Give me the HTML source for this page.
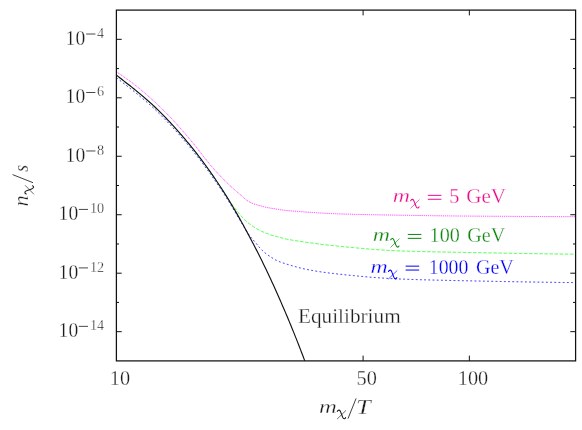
<!DOCTYPE html>
<html><head><meta charset="utf-8"><title>plot</title>
<style>
html,body{margin:0;padding:0;background:#fff;}
svg{display:block;font-family:"Liberation Serif",serif;will-change:transform;}
.it{font-style:italic;}
text{stroke:#fff;stroke-width:0.28px;paint-order:fill stroke;}
</style></head><body>
<svg width="582" height="430" viewBox="0 0 582 430">
<rect width="582" height="430" fill="#fff"/>
<g fill="none">
<path d="M116.40,71.82 L117.40,72.48 L118.40,73.15 L119.40,73.82 L120.40,74.49 L121.40,75.18 L122.40,75.87 L123.40,76.56 L124.40,77.26 L125.40,77.95 L126.40,78.65 L127.40,79.36 L128.40,80.07 L129.40,80.78 L130.40,81.49 L131.40,82.22 L132.40,82.96 L133.40,83.74 L134.40,84.54 L135.40,85.35 L136.40,86.17 L137.40,86.99 L138.40,87.82 L139.40,88.65 L140.40,89.48 L141.40,90.30 L142.40,91.13 L143.40,91.97 L144.40,92.80 L145.40,93.65 L146.40,94.51 L147.40,95.37 L148.40,96.24 L149.40,97.11 L150.40,97.99 L151.40,98.88 L152.40,99.78 L153.40,100.69 L154.40,101.61 L155.40,102.54 L156.40,103.47 L157.40,104.41 L158.40,105.36 L159.40,106.32 L160.40,107.28 L161.40,108.25 L162.40,109.23 L163.40,110.22 L164.40,111.21 L165.40,112.21 L166.40,113.22 L167.40,114.23 L168.40,115.26 L169.40,116.29 L170.40,117.34 L171.40,118.39 L172.40,119.46 L173.40,120.53 L174.40,121.61 L175.40,122.71 L176.40,123.80 L177.40,124.91 L178.40,126.03 L179.40,127.15 L180.40,128.28 L181.40,129.42 L182.40,130.57 L183.40,131.73 L184.40,132.89 L185.40,134.05 L186.40,135.23 L187.40,136.41 L188.40,137.59 L189.40,138.78 L190.40,139.97 L191.40,141.16 L192.40,142.37 L193.40,143.58 L194.40,144.81 L195.40,146.04 L196.40,147.28 L197.40,148.53 L198.40,149.79 L199.40,151.07 L200.40,152.35 L201.40,153.65 L202.40,154.97 L203.40,156.28 L204.40,157.56 L205.40,158.82 L206.40,160.07 L207.40,161.32 L208.40,162.55 L209.40,163.77 L210.40,164.98 L211.40,166.17 L212.40,167.34 L213.40,168.49 L214.40,169.62 L215.40,170.73 L216.40,171.83 L217.40,172.92 L218.40,173.99 L219.40,175.05 L220.40,176.10 L221.40,177.14 L222.40,178.17 L223.40,179.19 L224.40,180.20 L225.40,181.20 L226.40,182.19 L227.40,183.17 L228.40,184.13 L229.40,185.08 L230.40,186.01 L231.40,186.92 L232.40,187.83 L233.40,188.72 L234.40,189.59 L235.40,190.47 L236.40,191.33 L237.40,192.19 L238.40,193.05 L239.40,193.91 L240.40,194.77 L241.40,195.64 L242.40,196.55 L243.40,197.47 L244.40,198.38 L245.40,199.24 L246.40,200.04 L247.40,200.73 L248.40,201.35 L249.40,201.92 L250.40,202.44 L251.40,202.90 L252.40,203.32 L253.40,203.70 L254.40,204.05 L255.40,204.38 L256.40,204.70 L257.40,205.00 L258.40,205.28 L259.40,205.55 L260.40,205.81 L261.40,206.07 L262.40,206.34 L263.40,206.61 L264.40,206.89 L265.40,207.15 L266.40,207.39 L267.40,207.60 L268.40,207.78 L269.40,207.94 L270.40,208.09 L271.40,208.24 L272.40,208.40 L273.40,208.57 L274.40,208.73 L275.40,208.90 L276.40,209.07 L277.40,209.24 L278.40,209.40 L279.40,209.55 L280.40,209.71 L281.40,209.86 L282.40,210.00 L283.40,210.14 L284.40,210.27 L285.40,210.38 L286.40,210.48 L287.40,210.58 L288.40,210.68 L289.40,210.78 L290.40,210.87 L291.40,210.96 L292.40,211.05 L293.40,211.13 L294.40,211.21 L295.40,211.29 L296.40,211.37 L297.40,211.44 L298.40,211.52 L299.40,211.59 L300.40,211.66 L301.40,211.73 L302.40,211.80 L303.40,211.87 L304.40,211.94 L305.40,212.01 L306.40,212.08 L307.40,212.15 L308.40,212.21 L309.40,212.28 L310.40,212.35 L311.40,212.42 L312.40,212.48 L313.40,212.55 L314.40,212.61 L315.40,212.68 L316.40,212.74 L317.40,212.81 L318.40,212.87 L319.40,212.93 L320.40,212.99 L321.40,213.05 L322.40,213.11 L323.40,213.17 L324.40,213.22 L325.40,213.28 L326.40,213.33 L327.40,213.39 L328.40,213.44 L329.40,213.49 L330.40,213.54 L331.40,213.58 L332.40,213.63 L333.40,213.67 L334.40,213.71 L335.40,213.76 L336.40,213.79 L337.40,213.83 L338.40,213.87 L339.40,213.90 L340.40,213.93 L341.40,213.96 L342.40,213.99 L343.40,214.02 L344.40,214.05 L345.40,214.08 L346.40,214.11 L347.40,214.14 L348.40,214.17 L349.40,214.20 L350.40,214.22 L351.40,214.25 L352.40,214.28 L353.40,214.30 L354.40,214.33 L355.40,214.35 L356.40,214.38 L357.40,214.40 L358.40,214.42 L359.40,214.45 L360.40,214.47 L361.40,214.49 L362.40,214.51 L363.40,214.54 L364.40,214.56 L365.40,214.58 L366.40,214.60 L367.40,214.62 L368.40,214.64 L369.40,214.66 L370.40,214.68 L371.40,214.70 L372.40,214.72 L373.40,214.74 L374.40,214.76 L375.40,214.78 L376.40,214.80 L377.40,214.81 L378.40,214.83 L379.40,214.85 L380.40,214.87 L381.40,214.89 L382.40,214.90 L383.40,214.92 L384.40,214.94 L385.40,214.96 L386.40,214.97 L387.40,214.99 L388.40,215.01 L389.40,215.02 L390.40,215.04 L391.40,215.06 L392.40,215.07 L393.40,215.09 L394.40,215.11 L395.40,215.12 L396.40,215.14 L397.40,215.16 L398.40,215.17 L399.40,215.19 L400.40,215.21 L401.40,215.22 L402.40,215.24 L403.40,215.26 L404.40,215.27 L405.40,215.29 L406.40,215.31 L407.40,215.32 L408.40,215.34 L409.40,215.36 L410.40,215.37 L411.40,215.39 L412.40,215.40 L413.40,215.42 L414.40,215.44 L415.40,215.45 L416.40,215.47 L417.40,215.48 L418.40,215.50 L419.40,215.52 L420.40,215.53 L421.40,215.55 L422.40,215.56 L423.40,215.58 L424.40,215.59 L425.40,215.61 L426.40,215.62 L427.40,215.64 L428.40,215.65 L429.40,215.66 L430.40,215.68 L431.40,215.69 L432.40,215.71 L433.40,215.72 L434.40,215.73 L435.40,215.75 L436.40,215.76 L437.40,215.77 L438.40,215.79 L439.40,215.80 L440.40,215.81 L441.40,215.82 L442.40,215.84 L443.40,215.85 L444.40,215.86 L445.40,215.87 L446.40,215.88 L447.40,215.89 L448.40,215.91 L449.40,215.92 L450.40,215.93 L451.40,215.94 L452.40,215.95 L453.40,215.96 L454.40,215.97 L455.40,215.98 L456.40,215.99 L457.40,216.00 L458.40,216.00 L459.40,216.01 L460.40,216.02 L461.40,216.03 L462.40,216.04 L463.40,216.05 L464.40,216.05 L465.40,216.06 L466.40,216.07 L467.40,216.08 L468.40,216.09 L469.40,216.09 L470.40,216.10 L471.40,216.11 L472.40,216.12 L473.40,216.12 L474.40,216.13 L475.40,216.14 L476.40,216.14 L477.40,216.15 L478.40,216.16 L479.40,216.16 L480.40,216.17 L481.40,216.18 L482.40,216.18 L483.40,216.19 L484.40,216.20 L485.40,216.20 L486.40,216.21 L487.40,216.21 L488.40,216.22 L489.40,216.23 L490.40,216.23 L491.40,216.24 L492.40,216.24 L493.40,216.25 L494.40,216.25 L495.40,216.26 L496.40,216.27 L497.40,216.27 L498.40,216.28 L499.40,216.28 L500.40,216.29 L501.40,216.29 L502.40,216.30 L503.40,216.31 L504.40,216.31 L505.40,216.32 L506.40,216.32 L507.40,216.33 L508.40,216.33 L509.40,216.34 L510.40,216.35 L511.40,216.35 L512.40,216.36 L513.40,216.36 L514.40,216.37 L515.40,216.37 L516.40,216.38 L517.40,216.38 L518.40,216.39 L519.40,216.40 L520.40,216.40 L521.40,216.41 L522.40,216.41 L523.40,216.42 L524.40,216.43 L525.40,216.43 L526.40,216.44 L527.40,216.44 L528.40,216.45 L529.40,216.45 L530.40,216.46 L531.40,216.47 L532.40,216.47 L533.40,216.48 L534.40,216.48 L535.40,216.49 L536.40,216.49 L537.40,216.50 L538.40,216.51 L539.40,216.51 L540.40,216.52 L541.40,216.52 L542.40,216.53 L543.40,216.53 L544.40,216.54 L545.40,216.54 L546.40,216.55 L547.40,216.55 L548.40,216.56 L549.40,216.57 L550.40,216.57 L551.40,216.58 L552.40,216.58 L553.40,216.59 L554.40,216.59 L555.40,216.60 L556.40,216.60 L557.40,216.61 L558.40,216.61 L559.40,216.62 L560.40,216.62 L561.40,216.63 L562.40,216.63 L563.40,216.64 L564.40,216.64 L565.40,216.65 L566.40,216.65 L567.40,216.66 L568.40,216.66 L569.40,216.67 L570.40,216.67 L571.40,216.68 L572.40,216.68 L573.40,216.69 L574.40,216.69 L575.60,216.70" stroke="#ff00ff" stroke-opacity="0.85" stroke-width="0.95" stroke-dasharray="1 0.9"/>
<path d="M116.40,75.12 L117.40,75.89 L118.40,76.66 L119.40,77.43 L120.40,78.21 L121.40,79.00 L122.40,79.80 L123.40,80.60 L124.40,81.39 L125.40,82.17 L126.40,82.94 L127.40,83.71 L128.40,84.49 L129.40,85.27 L130.40,86.06 L131.40,86.85 L132.40,87.65 L133.40,88.46 L134.40,89.27 L135.40,90.08 L136.40,90.91 L137.40,91.74 L138.40,92.57 L139.40,93.41 L140.40,94.25 L141.40,95.09 L142.40,95.93 L143.40,96.77 L144.40,97.62 L145.40,98.48 L146.40,99.34 L147.40,100.21 L148.40,101.09 L149.40,101.97 L150.40,102.86 L151.40,103.76 L152.40,104.67 L153.40,105.60 L154.40,106.54 L155.40,107.50 L156.40,108.47 L157.40,109.44 L158.40,110.42 L159.40,111.40 L160.40,112.40 L161.40,113.40 L162.40,114.41 L163.40,115.42 L164.40,116.44 L165.40,117.47 L166.40,118.51 L167.40,119.56 L168.40,120.61 L169.40,121.67 L170.40,122.73 L171.40,123.80 L172.40,124.88 L173.40,125.97 L174.40,127.07 L175.40,128.17 L176.40,129.28 L177.40,130.40 L178.40,131.52 L179.40,132.66 L180.40,133.80 L181.40,134.95 L182.40,136.11 L183.40,137.28 L184.40,138.45 L185.40,139.63 L186.40,140.82 L187.40,142.02 L188.40,143.22 L189.40,144.44 L190.40,145.66 L191.40,146.89 L192.40,148.13 L193.40,149.38 L194.40,150.64 L195.40,151.91 L196.40,153.19 L197.40,154.47 L198.40,155.77 L199.40,157.08 L200.40,158.39 L201.40,159.71 L202.40,161.05 L203.40,162.39 L204.40,163.74 L205.40,165.11 L206.40,166.48 L207.40,167.86 L208.40,169.26 L209.40,170.66 L210.40,172.07 L211.40,173.49 L212.40,174.93 L213.40,176.37 L214.40,177.82 L215.40,179.29 L216.40,180.76 L217.40,182.24 L218.40,183.74 L219.40,185.25 L220.40,186.76 L221.40,188.29 L222.40,189.82 L223.40,191.37 L224.40,192.94 L225.40,194.55 L226.40,196.20 L227.40,197.83 L228.40,199.38 L229.40,200.86 L230.40,202.28 L231.40,203.65 L232.40,204.99 L233.40,206.27 L234.40,207.52 L235.40,208.77 L236.40,210.06 L237.40,211.37 L238.40,212.67 L239.40,213.94 L240.40,215.15 L241.40,216.29 L242.40,217.40 L243.40,218.46 L244.40,219.48 L245.40,220.44 L246.40,221.34 L247.40,222.19 L248.40,223.00 L249.40,223.77 L250.40,224.51 L251.40,225.25 L252.40,225.97 L253.40,226.67 L254.40,227.35 L255.40,228.00 L256.40,228.60 L257.40,229.16 L258.40,229.70 L259.40,230.21 L260.40,230.70 L261.40,231.17 L262.40,231.63 L263.40,232.07 L264.40,232.49 L265.40,232.90 L266.40,233.30 L267.40,233.70 L268.40,234.09 L269.40,234.48 L270.40,234.84 L271.40,235.16 L272.40,235.45 L273.40,235.71 L274.40,235.96 L275.40,236.20 L276.40,236.44 L277.40,236.70 L278.40,236.97 L279.40,237.26 L280.40,237.56 L281.40,237.85 L282.40,238.13 L283.40,238.39 L284.40,238.63 L285.40,238.85 L286.40,239.06 L287.40,239.25 L288.40,239.45 L289.40,239.63 L290.40,239.81 L291.40,239.99 L292.40,240.16 L293.40,240.33 L294.40,240.49 L295.40,240.65 L296.40,240.80 L297.40,240.95 L298.40,241.10 L299.40,241.25 L300.40,241.40 L301.40,241.55 L302.40,241.69 L303.40,241.84 L304.40,241.99 L305.40,242.13 L306.40,242.28 L307.40,242.43 L308.40,242.57 L309.40,242.71 L310.40,242.85 L311.40,243.00 L312.40,243.13 L313.40,243.27 L314.40,243.41 L315.40,243.55 L316.40,243.68 L317.40,243.81 L318.40,243.94 L319.40,244.07 L320.40,244.20 L321.40,244.32 L322.40,244.44 L323.40,244.56 L324.40,244.68 L325.40,244.80 L326.40,244.91 L327.40,245.02 L328.40,245.13 L329.40,245.24 L330.40,245.34 L331.40,245.44 L332.40,245.55 L333.40,245.65 L334.40,245.75 L335.40,245.85 L336.40,245.96 L337.40,246.06 L338.40,246.16 L339.40,246.26 L340.40,246.36 L341.40,246.46 L342.40,246.56 L343.40,246.66 L344.40,246.76 L345.40,246.86 L346.40,246.96 L347.40,247.06 L348.40,247.16 L349.40,247.26 L350.40,247.35 L351.40,247.45 L352.40,247.54 L353.40,247.64 L354.40,247.73 L355.40,247.83 L356.40,247.92 L357.40,248.01 L358.40,248.10 L359.40,248.20 L360.40,248.28 L361.40,248.37 L362.40,248.46 L363.40,248.55 L364.40,248.64 L365.40,248.72 L366.40,248.81 L367.40,248.89 L368.40,248.97 L369.40,249.05 L370.40,249.13 L371.40,249.21 L372.40,249.29 L373.40,249.37 L374.40,249.44 L375.40,249.52 L376.40,249.59 L377.40,249.67 L378.40,249.74 L379.40,249.81 L380.40,249.87 L381.40,249.94 L382.40,250.01 L383.40,250.07 L384.40,250.13 L385.40,250.20 L386.40,250.25 L387.40,250.31 L388.40,250.37 L389.40,250.43 L390.40,250.48 L391.40,250.53 L392.40,250.58 L393.40,250.63 L394.40,250.68 L395.40,250.72 L396.40,250.77 L397.40,250.81 L398.40,250.85 L399.40,250.89 L400.40,250.92 L401.40,250.96 L402.40,250.99 L403.40,251.03 L404.40,251.06 L405.40,251.09 L406.40,251.13 L407.40,251.16 L408.40,251.19 L409.40,251.22 L410.40,251.25 L411.40,251.28 L412.40,251.31 L413.40,251.34 L414.40,251.36 L415.40,251.39 L416.40,251.42 L417.40,251.45 L418.40,251.47 L419.40,251.50 L420.40,251.52 L421.40,251.55 L422.40,251.57 L423.40,251.60 L424.40,251.62 L425.40,251.64 L426.40,251.67 L427.40,251.69 L428.40,251.71 L429.40,251.73 L430.40,251.76 L431.40,251.78 L432.40,251.80 L433.40,251.82 L434.40,251.84 L435.40,251.86 L436.40,251.88 L437.40,251.90 L438.40,251.92 L439.40,251.94 L440.40,251.96 L441.40,251.98 L442.40,252.00 L443.40,252.02 L444.40,252.04 L445.40,252.06 L446.40,252.08 L447.40,252.10 L448.40,252.12 L449.40,252.14 L450.40,252.15 L451.40,252.17 L452.40,252.19 L453.40,252.21 L454.40,252.23 L455.40,252.25 L456.40,252.27 L457.40,252.29 L458.40,252.31 L459.40,252.33 L460.40,252.35 L461.40,252.37 L462.40,252.39 L463.40,252.41 L464.40,252.43 L465.40,252.45 L466.40,252.47 L467.40,252.49 L468.40,252.51 L469.40,252.53 L470.40,252.54 L471.40,252.56 L472.40,252.58 L473.40,252.60 L474.40,252.62 L475.40,252.64 L476.40,252.66 L477.40,252.68 L478.40,252.70 L479.40,252.72 L480.40,252.74 L481.40,252.75 L482.40,252.77 L483.40,252.79 L484.40,252.81 L485.40,252.83 L486.40,252.85 L487.40,252.87 L488.40,252.88 L489.40,252.90 L490.40,252.92 L491.40,252.94 L492.40,252.96 L493.40,252.98 L494.40,252.99 L495.40,253.01 L496.40,253.03 L497.40,253.05 L498.40,253.07 L499.40,253.08 L500.40,253.10 L501.40,253.12 L502.40,253.14 L503.40,253.15 L504.40,253.17 L505.40,253.19 L506.40,253.21 L507.40,253.22 L508.40,253.24 L509.40,253.26 L510.40,253.28 L511.40,253.29 L512.40,253.31 L513.40,253.33 L514.40,253.34 L515.40,253.36 L516.40,253.38 L517.40,253.39 L518.40,253.41 L519.40,253.43 L520.40,253.44 L521.40,253.46 L522.40,253.47 L523.40,253.49 L524.40,253.51 L525.40,253.52 L526.40,253.54 L527.40,253.55 L528.40,253.57 L529.40,253.59 L530.40,253.60 L531.40,253.62 L532.40,253.63 L533.40,253.65 L534.40,253.66 L535.40,253.68 L536.40,253.69 L537.40,253.71 L538.40,253.72 L539.40,253.74 L540.40,253.75 L541.40,253.77 L542.40,253.78 L543.40,253.79 L544.40,253.81 L545.40,253.82 L546.40,253.84 L547.40,253.85 L548.40,253.86 L549.40,253.88 L550.40,253.89 L551.40,253.91 L552.40,253.92 L553.40,253.93 L554.40,253.95 L555.40,253.96 L556.40,253.97 L557.40,253.98 L558.40,254.00 L559.40,254.01 L560.40,254.02 L561.40,254.03 L562.40,254.05 L563.40,254.06 L564.40,254.07 L565.40,254.08 L566.40,254.10 L567.40,254.11 L568.40,254.12 L569.40,254.13 L570.40,254.14 L571.40,254.15 L572.40,254.16 L573.40,254.18 L574.40,254.19 L575.60,254.20" stroke="#00ff00" stroke-width="0.72" stroke-dasharray="3.5 1.6"/>
<path d="M116.40,77.72 L117.40,78.48 L118.40,79.24 L119.40,80.01 L120.40,80.79 L121.40,81.57 L122.40,82.37 L123.40,83.16 L124.40,83.95 L125.40,84.72 L126.40,85.48 L127.40,86.25 L128.40,87.02 L129.40,87.80 L130.40,88.58 L131.40,89.36 L132.40,90.16 L133.40,90.96 L134.40,91.76 L135.40,92.57 L136.40,93.39 L137.40,94.21 L138.40,95.04 L139.40,95.88 L140.40,96.71 L141.40,97.54 L142.40,98.37 L143.40,99.21 L144.40,100.05 L145.40,100.90 L146.40,101.76 L147.40,102.63 L148.40,103.50 L149.40,104.37 L150.40,105.25 L151.40,106.14 L152.40,107.05 L153.40,107.97 L154.40,108.91 L155.40,109.86 L156.40,110.82 L157.40,111.78 L158.40,112.75 L159.40,113.73 L160.40,114.71 L161.40,115.71 L162.40,116.71 L163.40,117.71 L164.40,118.73 L165.40,119.75 L166.40,120.78 L167.40,121.82 L168.40,122.86 L169.40,123.91 L170.40,124.97 L171.40,126.03 L172.40,127.11 L173.40,128.18 L174.40,129.27 L175.40,130.36 L176.40,131.47 L177.40,132.58 L178.40,133.70 L179.40,134.82 L180.40,135.96 L181.40,137.10 L182.40,138.25 L183.40,139.41 L184.40,140.58 L185.40,141.75 L186.40,142.93 L187.40,144.12 L188.40,145.32 L189.40,146.52 L190.40,147.74 L191.40,148.96 L192.40,150.19 L193.40,151.44 L194.40,152.69 L195.40,153.95 L196.40,155.22 L197.40,156.50 L198.40,157.78 L199.40,159.08 L200.40,160.38 L201.40,161.69 L202.40,163.01 L203.40,164.33 L204.40,165.67 L205.40,167.02 L206.40,168.37 L207.40,169.74 L208.40,171.11 L209.40,172.50 L210.40,173.89 L211.40,175.30 L212.40,176.71 L213.40,178.14 L214.40,179.57 L215.40,181.02 L216.40,182.48 L217.40,183.95 L218.40,185.42 L219.40,186.91 L220.40,188.41 L221.40,189.92 L222.40,191.44 L223.40,192.97 L224.40,194.52 L225.40,196.09 L226.40,197.68 L227.40,199.28 L228.40,200.90 L229.40,202.53 L230.40,204.17 L231.40,205.82 L232.40,207.48 L233.40,209.14 L234.40,210.80 L235.40,212.47 L236.40,214.14 L237.40,215.79 L238.40,217.44 L239.40,219.10 L240.40,220.78 L241.40,222.49 L242.40,224.22 L243.40,225.94 L244.40,227.62 L245.40,229.28 L246.40,230.93 L247.40,232.54 L248.40,234.07 L249.40,235.47 L250.40,236.75 L251.40,237.95 L252.40,239.09 L253.40,240.21 L254.40,241.33 L255.40,242.48 L256.40,243.69 L257.40,244.93 L258.40,246.16 L259.40,247.36 L260.40,248.48 L261.40,249.52 L262.40,250.51 L263.40,251.46 L264.40,252.36 L265.40,253.20 L266.40,253.98 L267.40,254.71 L268.40,255.39 L269.40,256.05 L270.40,256.69 L271.40,257.33 L272.40,257.99 L273.40,258.65 L274.40,259.29 L275.40,259.88 L276.40,260.40 L277.40,260.85 L278.40,261.28 L279.40,261.68 L280.40,262.05 L281.40,262.41 L282.40,262.75 L283.40,263.08 L284.40,263.41 L285.40,263.72 L286.40,264.04 L287.40,264.36 L288.40,264.67 L289.40,264.97 L290.40,265.27 L291.40,265.56 L292.40,265.84 L293.40,266.12 L294.40,266.40 L295.40,266.67 L296.40,266.94 L297.40,267.20 L298.40,267.46 L299.40,267.73 L300.40,267.99 L301.40,268.24 L302.40,268.49 L303.40,268.72 L304.40,268.94 L305.40,269.14 L306.40,269.34 L307.40,269.54 L308.40,269.73 L309.40,269.92 L310.40,270.11 L311.40,270.29 L312.40,270.48 L313.40,270.65 L314.40,270.83 L315.40,271.00 L316.40,271.17 L317.40,271.33 L318.40,271.49 L319.40,271.65 L320.40,271.80 L321.40,271.96 L322.40,272.10 L323.40,272.25 L324.40,272.39 L325.40,272.52 L326.40,272.65 L327.40,272.78 L328.40,272.91 L329.40,273.03 L330.40,273.15 L331.40,273.26 L332.40,273.38 L333.40,273.49 L334.40,273.61 L335.40,273.72 L336.40,273.83 L337.40,273.95 L338.40,274.06 L339.40,274.17 L340.40,274.28 L341.40,274.39 L342.40,274.50 L343.40,274.61 L344.40,274.71 L345.40,274.82 L346.40,274.92 L347.40,275.03 L348.40,275.13 L349.40,275.24 L350.40,275.34 L351.40,275.44 L352.40,275.54 L353.40,275.64 L354.40,275.74 L355.40,275.84 L356.40,275.93 L357.40,276.03 L358.40,276.12 L359.40,276.22 L360.40,276.31 L361.40,276.40 L362.40,276.49 L363.40,276.58 L364.40,276.67 L365.40,276.76 L366.40,276.84 L367.40,276.93 L368.40,277.01 L369.40,277.09 L370.40,277.18 L371.40,277.26 L372.40,277.34 L373.40,277.41 L374.40,277.49 L375.40,277.57 L376.40,277.64 L377.40,277.71 L378.40,277.79 L379.40,277.86 L380.40,277.93 L381.40,278.00 L382.40,278.06 L383.40,278.13 L384.40,278.19 L385.40,278.25 L386.40,278.32 L387.40,278.38 L388.40,278.43 L389.40,278.49 L390.40,278.55 L391.40,278.60 L392.40,278.66 L393.40,278.71 L394.40,278.76 L395.40,278.80 L396.40,278.85 L397.40,278.90 L398.40,278.94 L399.40,278.98 L400.40,279.02 L401.40,279.06 L402.40,279.10 L403.40,279.14 L404.40,279.18 L405.40,279.22 L406.40,279.26 L407.40,279.29 L408.40,279.33 L409.40,279.36 L410.40,279.40 L411.40,279.43 L412.40,279.46 L413.40,279.50 L414.40,279.53 L415.40,279.56 L416.40,279.59 L417.40,279.62 L418.40,279.65 L419.40,279.68 L420.40,279.71 L421.40,279.74 L422.40,279.77 L423.40,279.80 L424.40,279.82 L425.40,279.85 L426.40,279.88 L427.40,279.90 L428.40,279.93 L429.40,279.95 L430.40,279.98 L431.40,280.00 L432.40,280.03 L433.40,280.05 L434.40,280.08 L435.40,280.10 L436.40,280.13 L437.40,280.15 L438.40,280.17 L439.40,280.20 L440.40,280.22 L441.40,280.24 L442.40,280.26 L443.40,280.29 L444.40,280.31 L445.40,280.33 L446.40,280.35 L447.40,280.37 L448.40,280.40 L449.40,280.42 L450.40,280.44 L451.40,280.46 L452.40,280.48 L453.40,280.50 L454.40,280.52 L455.40,280.55 L456.40,280.57 L457.40,280.59 L458.40,280.61 L459.40,280.63 L460.40,280.65 L461.40,280.68 L462.40,280.70 L463.40,280.72 L464.40,280.74 L465.40,280.76 L466.40,280.78 L467.40,280.80 L468.40,280.82 L469.40,280.85 L470.40,280.87 L471.40,280.89 L472.40,280.91 L473.40,280.93 L474.40,280.95 L475.40,280.97 L476.40,280.99 L477.40,281.01 L478.40,281.03 L479.40,281.05 L480.40,281.07 L481.40,281.10 L482.40,281.12 L483.40,281.14 L484.40,281.16 L485.40,281.18 L486.40,281.20 L487.40,281.22 L488.40,281.24 L489.40,281.26 L490.40,281.28 L491.40,281.30 L492.40,281.32 L493.40,281.34 L494.40,281.36 L495.40,281.37 L496.40,281.39 L497.40,281.41 L498.40,281.43 L499.40,281.45 L500.40,281.47 L501.40,281.49 L502.40,281.51 L503.40,281.53 L504.40,281.55 L505.40,281.57 L506.40,281.58 L507.40,281.60 L508.40,281.62 L509.40,281.64 L510.40,281.66 L511.40,281.68 L512.40,281.69 L513.40,281.71 L514.40,281.73 L515.40,281.75 L516.40,281.77 L517.40,281.78 L518.40,281.80 L519.40,281.82 L520.40,281.84 L521.40,281.85 L522.40,281.87 L523.40,281.89 L524.40,281.90 L525.40,281.92 L526.40,281.94 L527.40,281.95 L528.40,281.97 L529.40,281.99 L530.40,282.00 L531.40,282.02 L532.40,282.03 L533.40,282.05 L534.40,282.07 L535.40,282.08 L536.40,282.10 L537.40,282.11 L538.40,282.13 L539.40,282.14 L540.40,282.16 L541.40,282.17 L542.40,282.19 L543.40,282.20 L544.40,282.22 L545.40,282.23 L546.40,282.25 L547.40,282.26 L548.40,282.27 L549.40,282.29 L550.40,282.30 L551.40,282.31 L552.40,282.33 L553.40,282.34 L554.40,282.35 L555.40,282.37 L556.40,282.38 L557.40,282.39 L558.40,282.41 L559.40,282.42 L560.40,282.43 L561.40,282.44 L562.40,282.46 L563.40,282.47 L564.40,282.48 L565.40,282.49 L566.40,282.50 L567.40,282.51 L568.40,282.52 L569.40,282.54 L570.40,282.55 L571.40,282.56 L572.40,282.57 L573.40,282.58 L574.40,282.59 L575.60,282.60" stroke="#0000ff" stroke-width="0.85" stroke-dasharray="1.8 2.4"/>
<path d="M116.40,75.12 L117.40,75.89 L118.40,76.66 L119.40,77.43 L120.40,78.21 L121.40,79.00 L122.40,79.79 L123.40,80.59 L124.40,81.39 L125.40,82.18 L126.40,82.95 L127.40,83.72 L128.40,84.49 L129.40,85.27 L130.40,86.06 L131.40,86.85 L132.40,87.65 L133.40,88.46 L134.40,89.27 L135.40,90.08 L136.40,90.91 L137.40,91.74 L138.40,92.57 L139.40,93.41 L140.40,94.25 L141.40,95.08 L142.40,95.92 L143.40,96.77 L144.40,97.62 L145.40,98.48 L146.40,99.34 L147.40,100.21 L148.40,101.09 L149.40,101.97 L150.40,102.87 L151.40,103.76 L152.40,104.67 L153.40,105.59 L154.40,106.54 L155.40,107.50 L156.40,108.47 L157.40,109.44 L158.40,110.42 L159.40,111.40 L160.40,112.40 L161.40,113.40 L162.40,114.41 L163.40,115.42 L164.40,116.44 L165.40,117.47 L166.40,118.51 L167.40,119.56 L168.40,120.61 L169.40,121.67 L170.40,122.73 L171.40,123.81 L172.40,124.88 L173.40,125.97 L174.40,127.07 L175.40,128.17 L176.40,129.28 L177.40,130.40 L178.40,131.52 L179.40,132.66 L180.40,133.80 L181.40,134.95 L182.40,136.11 L183.40,137.28 L184.40,138.45 L185.40,139.63 L186.40,140.82 L187.40,142.02 L188.40,143.22 L189.40,144.44 L190.40,145.66 L191.40,146.89 L192.40,148.13 L193.40,149.38 L194.40,150.64 L195.40,151.91 L196.40,153.19 L197.40,154.47 L198.40,155.77 L199.40,157.08 L200.40,158.39 L201.40,159.71 L202.40,161.05 L203.40,162.39 L204.40,163.74 L205.40,165.11 L206.40,166.48 L207.40,167.86 L208.40,169.26 L209.40,170.66 L210.40,172.07 L211.40,173.49 L212.40,174.93 L213.40,176.37 L214.40,177.82 L215.40,179.29 L216.40,180.76 L217.40,182.24 L218.40,183.74 L219.40,185.25 L220.40,186.76 L221.40,188.29 L222.40,189.83 L223.40,191.38 L224.40,192.94 L225.40,194.52 L226.40,196.13 L227.40,197.75 L228.40,199.38 L229.40,201.03 L230.40,202.68 L231.40,204.35 L232.40,206.03 L233.40,207.73 L234.40,209.43 L235.40,211.15 L236.40,212.88 L237.40,214.62 L238.40,216.37 L239.40,218.14 L240.40,219.92 L241.40,221.71 L242.40,223.51 L243.40,225.33 L244.40,227.16 L245.40,229.01 L246.40,230.86 L247.40,232.73 L248.40,234.62 L249.40,236.52 L250.40,238.41 L251.40,240.29 L252.40,242.18 L253.40,244.09 L254.40,246.00 L255.40,247.94 L256.40,249.88 L257.40,251.84 L258.40,253.81 L259.40,255.80 L260.40,257.80 L261.40,259.82 L262.40,261.84 L263.40,263.89 L264.40,265.94 L265.40,268.01 L266.40,270.10 L267.40,272.20 L268.40,274.31 L269.40,276.44 L270.40,278.59 L271.40,280.74 L272.40,282.92 L273.40,285.11 L274.40,287.31 L275.40,289.53 L276.40,291.76 L277.40,294.01 L278.40,296.28 L279.40,298.56 L280.40,300.84 L281.40,303.11 L282.40,305.40 L283.40,307.71 L284.40,310.03 L285.40,312.36 L286.40,314.72 L287.40,317.08 L288.40,319.47 L289.40,321.87 L290.40,324.28 L291.40,326.71 L292.40,329.16 L293.40,331.63 L294.40,334.11 L295.40,336.61 L296.40,339.13 L297.40,341.66 L298.40,344.21 L299.40,346.77 L300.40,349.36 L301.40,351.96 L302.40,354.58 L303.40,357.22 L304.40,359.89 L304.77,360.90" stroke="#111" stroke-width="1.15"/>
<path d="M116.4,331.67h5.3 M575.6,331.67h-5.3 M116.4,302.43h2.6 M575.6,302.43h-2.6 M116.4,273.20h5.3 M575.6,273.20h-5.3 M116.4,243.97h2.6 M575.6,243.97h-2.6 M116.4,214.73h5.3 M575.6,214.73h-5.3 M116.4,185.50h2.6 M575.6,185.50h-2.6 M116.4,156.27h5.3 M575.6,156.27h-5.3 M116.4,127.03h2.6 M575.6,127.03h-2.6 M116.4,97.80h5.3 M575.6,97.80h-5.3 M116.4,68.57h2.6 M575.6,68.57h-2.6 M116.4,39.33h5.3 M575.6,39.33h-5.3 M363.10,360.9v-5.3 M363.10,10.1v5.3 M469.35,360.9v-5.3 M469.35,10.1v5.3" stroke="#111" stroke-width="1"/>
<rect x="116.4" y="10.1" width="459.20" height="350.80" stroke="#111" stroke-width="1.25"/>
</g>
<text x="58.6" y="337.17" style="fill:#1c1c1c" font-size="20.3" textLength="19.6" lengthAdjust="spacingAndGlyphs">10</text>
<path d="M78.8,326.37H88.0" stroke="#1c1c1c" stroke-width="0.8"/>
<text x="90.0" y="329.97" style="fill:#1c1c1c" font-size="14.2">14</text>
<text x="58.6" y="278.70" style="fill:#1c1c1c" font-size="20.3" textLength="19.6" lengthAdjust="spacingAndGlyphs">10</text>
<path d="M78.8,267.90H88.0" stroke="#1c1c1c" stroke-width="0.8"/>
<text x="90.0" y="271.50" style="fill:#1c1c1c" font-size="14.2">12</text>
<text x="58.6" y="220.23" style="fill:#1c1c1c" font-size="20.3" textLength="19.6" lengthAdjust="spacingAndGlyphs">10</text>
<path d="M78.8,209.43H88.0" stroke="#1c1c1c" stroke-width="0.8"/>
<text x="90.0" y="213.03" style="fill:#1c1c1c" font-size="14.2">10</text>
<text x="65.6" y="161.77" style="fill:#1c1c1c" font-size="20.3" textLength="19.6" lengthAdjust="spacingAndGlyphs">10</text>
<path d="M86.2,150.97H95.4" stroke="#1c1c1c" stroke-width="0.8"/>
<text x="97.0" y="154.57" style="fill:#1c1c1c" font-size="14.2">8</text>
<text x="65.6" y="103.30" style="fill:#1c1c1c" font-size="20.3" textLength="19.6" lengthAdjust="spacingAndGlyphs">10</text>
<path d="M86.2,92.50H95.4" stroke="#1c1c1c" stroke-width="0.8"/>
<text x="97.0" y="96.10" style="fill:#1c1c1c" font-size="14.2">6</text>
<text x="65.6" y="44.83" style="fill:#1c1c1c" font-size="20.3" textLength="19.6" lengthAdjust="spacingAndGlyphs">10</text>
<path d="M86.2,34.03H95.4" stroke="#1c1c1c" stroke-width="0.8"/>
<text x="97.0" y="37.63" style="fill:#1c1c1c" font-size="14.2">4</text>
<text x="120.00" y="385.4" style="fill:#1c1c1c" font-size="20.3" text-anchor="middle">10</text>
<text x="366.70" y="385.4" style="fill:#1c1c1c" font-size="20.3" text-anchor="middle">50</text>
<text x="472.95" y="385.4" style="fill:#1c1c1c" font-size="20.3" text-anchor="middle">100</text>
<text x="392.8" y="202.25" style="fill:#ec0c8c" font-size="19.691" class="it" textLength="17.2" lengthAdjust="spacingAndGlyphs">m</text>
<g transform="translate(410.0,199.05) scale(1.0)" fill="none" stroke="#ec0c8c" stroke-linecap="round"><path d="M0.7,1.6C1.1,0.7 1.8,0.2 2.6,0.3C3.6,0.5 3.9,1.6 4.3,2.8L5.9,7.0C6.3,8.2 6.8,9.0 7.7,9.0C8.3,9.0 8.8,8.5 9.0,7.8" stroke-width="1.1"/><path d="M9.2,0.8L0.8,9.0" stroke-width="0.65"/></g>
<path d="M427.8,195.35h13.6M427.8,199.25h13.6" stroke="#ec0c8c" stroke-width="1.0" fill="none"/>
<text x="449.2" y="202.8" style="fill:#ec0c8c" font-size="20.3">5</text>
<text x="466.3" y="202.8" style="fill:#ec0c8c" font-size="20.3" textLength="39.8" lengthAdjust="spacingAndGlyphs">GeV</text>
<text x="372.8" y="241.35" style="fill:#0c860c" font-size="19.691" class="it" textLength="17.2" lengthAdjust="spacingAndGlyphs">m</text>
<g transform="translate(390.0,238.15) scale(1.0)" fill="none" stroke="#0c860c" stroke-linecap="round"><path d="M0.7,1.6C1.1,0.7 1.8,0.2 2.6,0.3C3.6,0.5 3.9,1.6 4.3,2.8L5.9,7.0C6.3,8.2 6.8,9.0 7.7,9.0C8.3,9.0 8.8,8.5 9.0,7.8" stroke-width="1.1"/><path d="M9.2,0.8L0.8,9.0" stroke-width="0.65"/></g>
<path d="M407.8,234.45h13.6M407.8,238.35h13.6" stroke="#0c860c" stroke-width="1.0" fill="none"/>
<text x="429.6" y="241.9" style="fill:#0c860c" font-size="20.3" textLength="30.2" lengthAdjust="spacingAndGlyphs">100</text>
<text x="467.3" y="241.9" style="fill:#0c860c" font-size="20.3" textLength="38.0" lengthAdjust="spacingAndGlyphs">GeV</text>
<text x="370.6" y="273.05" style="fill:#0000ff" font-size="19.691" class="it" textLength="17.2" lengthAdjust="spacingAndGlyphs">m</text>
<g transform="translate(387.8,269.85) scale(1.0)" fill="none" stroke="#0000ff" stroke-linecap="round"><path d="M0.7,1.6C1.1,0.7 1.8,0.2 2.6,0.3C3.6,0.5 3.9,1.6 4.3,2.8L5.9,7.0C6.3,8.2 6.8,9.0 7.7,9.0C8.3,9.0 8.8,8.5 9.0,7.8" stroke-width="1.1"/><path d="M9.2,0.8L0.8,9.0" stroke-width="0.65"/></g>
<path d="M405.6,266.15h13.6M405.6,270.05h13.6" stroke="#0000ff" stroke-width="1.0" fill="none"/>
<text x="428.8" y="273.6" style="fill:#0000ff" font-size="20.3" textLength="39.6" lengthAdjust="spacingAndGlyphs">1000</text>
<text x="476.0" y="273.6" style="fill:#0000ff" font-size="20.3" textLength="37.8" lengthAdjust="spacingAndGlyphs">GeV</text>
<text x="297.9" y="322.7" style="fill:#1c1c1c" font-size="20.3" textLength="102.8" lengthAdjust="spacingAndGlyphs">Equilibrium</text>
<text x="318.9" y="413.4" style="fill:#1c1c1c" font-size="19.488" class="it" textLength="17.8" lengthAdjust="spacingAndGlyphs">m</text>
<g transform="translate(336.6,409.8) scale(1.0)" fill="none" stroke="#1c1c1c" stroke-linecap="round"><path d="M0.7,1.6C1.1,0.7 1.8,0.2 2.6,0.3C3.6,0.5 3.9,1.6 4.3,2.8L5.9,7.0C6.3,8.2 6.8,9.0 7.7,9.0C8.3,9.0 8.8,8.5 9.0,7.8" stroke-width="1.1"/><path d="M9.2,0.8L0.8,9.0" stroke-width="0.65"/></g>
<path d="M348.0,418.6L356.1,398.4" stroke="#1c1c1c" stroke-width="0.85" fill="none"/>
<text x="356.0" y="413.6" style="fill:#1c1c1c" font-size="20.3" class="it" textLength="14.6" lengthAdjust="spacingAndGlyphs">T</text>
<g transform="translate(28,206) rotate(-90)"><text x="-0.4" y="0" style="fill:#1c1c1c" font-size="20.3" class="it" textLength="11.2" lengthAdjust="spacingAndGlyphs">n</text><g transform="translate(11.2,-3.4) scale(1.0)" fill="none" stroke="#1c1c1c" stroke-linecap="round"><path d="M0.7,1.6C1.1,0.7 1.8,0.2 2.6,0.3C3.6,0.5 3.9,1.6 4.3,2.8L5.9,7.0C6.3,8.2 6.8,9.0 7.7,9.0C8.3,9.0 8.8,8.5 9.0,7.8" stroke-width="1.1"/><path d="M9.2,0.8L0.8,9.0" stroke-width="0.65"/></g><path d="M23.3,5L31.4,-15.4" stroke="#1c1c1c" stroke-width="0.85" fill="none"/><text x="34.2" y="0" style="fill:#1c1c1c" font-size="20.3" class="it" textLength="6.8" lengthAdjust="spacingAndGlyphs">s</text></g>
</svg>
</body></html>
